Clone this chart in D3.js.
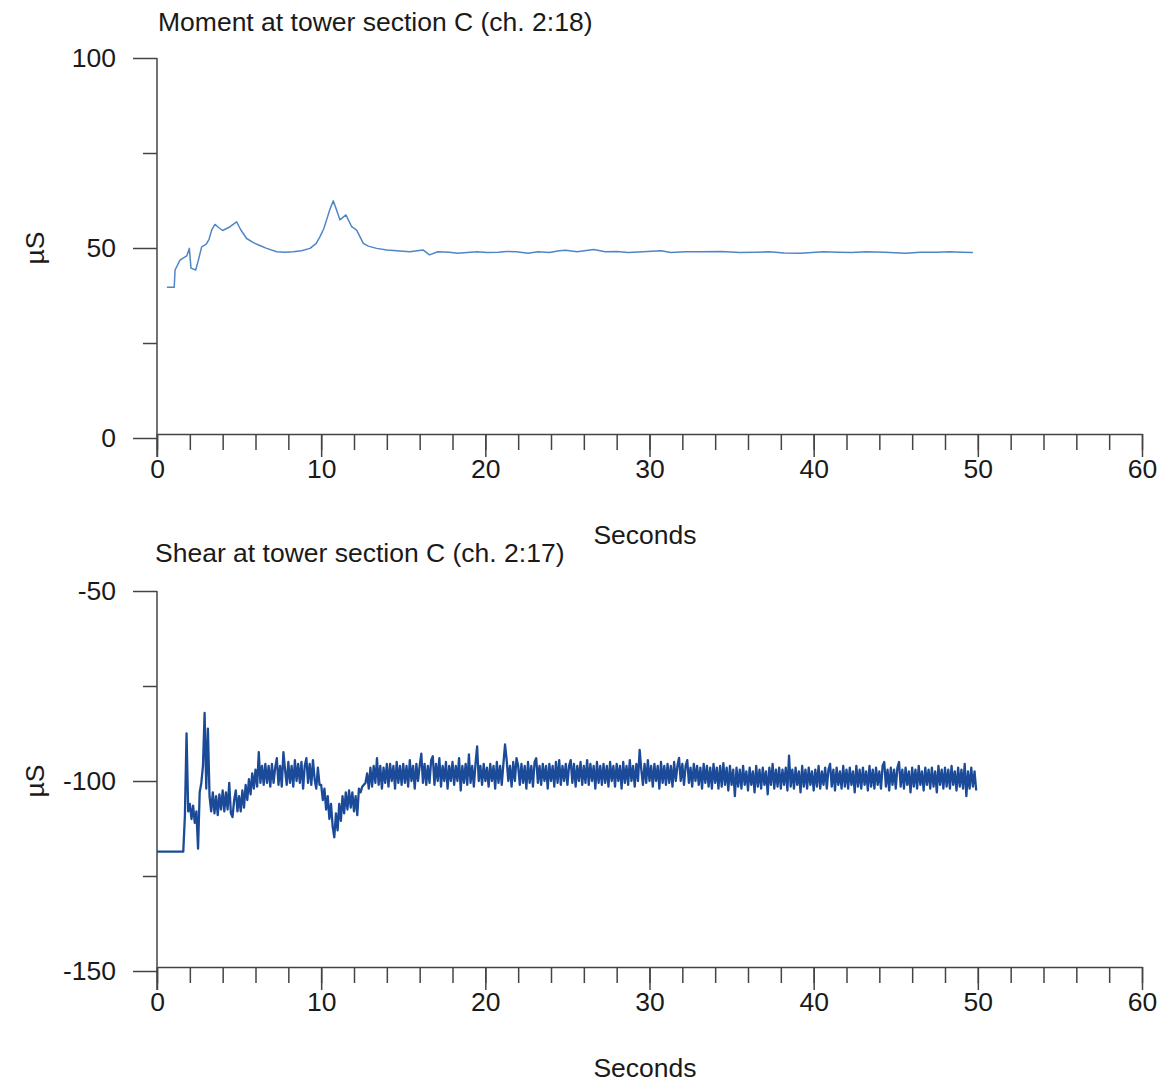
<!DOCTYPE html>
<html>
<head>
<meta charset="utf-8">
<script src="https://cdn.jsdelivr.net/npm/d3@7"></script>
<style>
  html, body { margin: 0; padding: 0; background: #fff; }
  svg { display: block; }
  text { font-family: Arial, "Liberation Sans", sans-serif; fill: #1a1a1a; }
</style>
</head>
<body>
<script>
// ---------- DATA ----------
const xTickLabels = [0, 10, 20, 30, 40, 50, 60];

const momentTitle = "Moment at tower section C (ch. 2:18)";
const momentYTicks = [0, 50, 100];
const momentT = [0.6, 1.05, 1.1, 1.4, 1.81, 1.97, 2.07, 2.36, 2.52, 2.72, 3.0, 3.17, 3.33, 3.53, 3.75, 4.0, 4.45, 4.85, 5.1, 5.46, 5.87, 6.3, 6.68, 7.29, 7.8, 8.3, 8.8, 9.32, 9.7, 9.93, 10.15, 10.33, 10.55, 10.74, 10.94, 11.14, 11.51, 11.86, 12.16, 12.57, 12.87, 13.38, 14.0, 14.6, 15.4, 16.2, 16.6, 17.1, 17.8, 18.3, 18.9, 19.5, 20.1, 20.8, 21.3, 21.9, 22.6, 23.2, 23.9, 24.5, 24.9, 25.6, 26.6, 27.3, 28.0, 28.7, 29.6, 30.7, 31.3, 32.2, 33.1, 34.4, 35.5, 36.5, 37.3, 38.2, 39.2, 40.6, 41.5, 42.3, 43.2, 44.3, 45.6, 46.5, 47.5, 48.3, 49.0, 49.7];
const momentV = [39.7, 39.7, 44.2, 46.8, 47.9, 49.9, 44.7, 44.2, 46.8, 50.3, 51.0, 52.3, 54.7, 56.2, 55.4, 54.6, 55.6, 56.9, 54.8, 52.5, 51.4, 50.6, 49.9, 49.0, 48.9, 49.0, 49.3, 49.9, 51.2, 53.0, 55.0, 57.4, 60.4, 62.4, 60.0, 57.4, 58.7, 55.6, 54.7, 51.2, 50.5, 49.9, 49.5, 49.3, 49.0, 49.5, 48.2, 49.0, 48.9, 48.6, 48.8, 49.0, 48.8, 48.9, 49.1, 49.0, 48.6, 49.0, 48.8, 49.3, 49.4, 49.0, 49.6, 49.0, 49.1, 48.8, 49.0, 49.3, 48.8, 49.0, 49.0, 49.1, 48.8, 48.9, 49.0, 48.7, 48.6, 49.0, 48.9, 48.8, 49.0, 48.9, 48.6, 48.9, 48.9, 49.0, 48.9, 48.8];

const shearTitle = "Shear at tower section C (ch. 2:17)";
const shearYTicks = [-150, -100, -50];
const shearStart = 0;      // seconds of first sample
const shearStep = 0.1;     // seconds between samples
const shearV = [
  -118.6,-118.6,-118.6,-118.6,-118.6,-118.6,-118.6,-118.6,-118.6,-118.6,
  -118.6,-118.6,-118.6,-118.6,-118.6,-118.6,-118.6,-109,-87.5,-108,
  -106,-110,-106.5,-111,-108,-117.8,-103,-100.5,-96,-82.1,
  -102,-86.2,-104,-108,-103,-108.5,-104,-109,-103.5,-107.5,
  -102.5,-108,-103,-107.5,-100.5,-108.5,-109.5,-105,-102.5,-108,
  -104,-108,-102.5,-107,-101,-105,-99.5,-103.5,-98,-102,
  -97,-101.5,-92.4,-100.5,-96,-101,-95.5,-100.5,-96,-101.5,
  -95.5,-100.5,-96.5,-94,-101,-96,-101.5,-92.4,-97,-101,
  -95,-100.5,-96,-101.5,-94.5,-100,-95.5,-100.5,-95,-102,
  -96,-94,-100.5,-95.5,-101,-94.5,-99.5,-102,-96.5,-101,
  -101,-105,-102,-107.5,-104,-110,-106,-112,-114.8,-108.5,
  -113,-106,-110.5,-104,-108.5,-103,-107.5,-102.5,-107,-103,
  -108,-104,-109,-102,-103,-101.5,-101,-100.5,-98,-102,
  -96.5,-101.5,-96,-100.5,-94,-101,-96,-102,-96.5,-100.5,
  -95.5,-101.5,-95.5,-100,-96,-102,-95,-100.5,-96,-101,
  -95.5,-100.5,-96,-101.5,-94.5,-100,-96,-102,-95.5,-100,
  -96,-92.8,-100.5,-95.5,-101,-96,-100.5,-94.5,-93.5,-101,
  -95.5,-100,-94,-101.5,-96,-100,-95,-102,-96,-100,
  -95,-101,-96,-100,-94,-102.5,-96,-100.5,-95.5,-101,
  -93,-100.5,-96,-101.5,-95.5,-90.9,-100,-96,-101,-95.5,
  -100,-96.5,-101.5,-95.5,-100,-96,-102,-95,-100.5,-96,
  -101,-95.5,-90.4,-94.5,-100,-96,-101.5,-95,-100,-94,
  -96,-101,-95.5,-100.5,-96,-102,-95,-100.5,-96,-101.5,
  -95,-94,-100.5,-96,-101,-95.5,-100,-96,-102,-95.5,
  -100,-96,-101.5,-95,-100.5,-94.5,-101,-96,-100,-95.5,
  -101,-96,-94.5,-100.5,-95.5,-101.5,-96,-100,-95,-101,
  -96,-100.5,-94.5,-101,-95.5,-100,-96,-102,-95,-100.5,
  -96,-101,-95.5,-100.5,-96,-101.5,-95,-100,-96,-101.5,
  -95.5,-100,-96,-102,-95,-100.5,-96,-101,-94.5,-100,
  -96,-101.5,-95.5,-100,-91.8,-97,-101,-95.5,-100.5,-94.5,
  -100,-96,-101.5,-95.5,-100,-96,-102,-95,-100.5,-96,
  -101,-95.5,-100.5,-96,-101.5,-95,-100,-96,-93.9,-100,
  -95.5,-101,-96,-94.5,-100.5,-96.5,-101.5,-95.5,-100,-96,
  -101,-96.5,-102,-95.5,-100.5,-96,-101.5,-96.5,-102,-95.5,
  -100.5,-96.5,-102,-96,-101.5,-95.3,-101,-96.5,-102.5,-96,
  -101,-97,-104,-96.5,-101.5,-97,-102,-96,-101,-97.5,
  -102.5,-96.5,-101,-97.5,-103,-96,-101.5,-97,-102,-96.5,
  -101,-97.5,-103.5,-96.5,-101,-95.5,-102,-97,-101.5,-96.5,
  -102,-97,-101,-96.5,-102.5,-93.3,-101.5,-97,-102,-96.5,
  -101,-97.5,-103,-96,-101.5,-97,-102,-96.5,-101,-97.5,
  -102.5,-97,-101.5,-96,-102,-97.5,-101,-96.5,-102,-97,
  -95.5,-101.5,-97,-102.5,-96.5,-101,-97.5,-102,-96,-101.5,
  -97,-102,-96.5,-101,-97.5,-103,-96,-101.5,-97,-102,
  -96.5,-101,-97.5,-102.5,-96,-101.5,-97,-102,-96.5,-101,
  -97.5,-102,-96,-95,-101.5,-97,-102.5,-96.5,-101,-97,
  -102,-96.5,-95,-101.5,-97,-102,-96.5,-101,-97.5,-103,
  -96.5,-101.5,-97,-102,-96,-101,-97.5,-102.5,-96.5,-101,
  -97,-102,-96.5,-101.5,-97.5,-103,-96,-101,-97,-102,
  -96.5,-101.5,-97,-102,-96,-101,-97.5,-102.5,-96.5,-101.5,
  -97,-102,-95.5,-104,-97.5,-102,-96.5,-101.5,-97.5,-102.5
];

// ---------- LAYOUT ----------
const W = 1165, H = 1084;
const FONT = 26.5;
const FAM = "Arial, 'Liberation Sans', sans-serif";
const svg = d3.select("body").append("svg").attr("width", W).attr("height", H);

function panel(cfg) {
  const x = d3.scaleLinear().domain([0, 60]).range([157, 1142]);
  const y = d3.scaleLinear().domain(cfg.yDomain).range(cfg.yRange);
  const g = svg.append("g");
  const axisY = cfg.yRange[0] - 4;
  const axisColor = "#444";
  const fmt = d => String(d);

  g.append("line").attr("x1", x(0)).attr("x2", x(0))
    .attr("y1", cfg.yRange[1]).attr("y2", axisY + 23)
    .attr("stroke", axisColor).attr("stroke-width", 1.5);

  const yMinor = d3.axisLeft(y).tickValues(cfg.yMinor).tickSize(14).tickFormat("").tickSizeOuter(0);
  const gym = g.append("g").attr("transform", `translate(${x(0)},0)`).call(yMinor);
  const yMajor = d3.axisLeft(y).tickValues(cfg.yTicks).tickSize(24).tickPadding(17).tickFormat(fmt).tickSizeOuter(0);
  const gyM = g.append("g").attr("transform", `translate(${x(0)},0)`).call(yMajor);
  [gym, gyM].forEach(a => {
    a.select(".domain").remove();
    a.selectAll("line").attr("stroke", axisColor).attr("stroke-width", 1.5);
    a.selectAll("text").style("font-size", FONT + "px").style("font-family", FAM).attr("fill", "#1a1a1a");
  });

  const xMinor = d3.axisBottom(x).tickValues(d3.range(0, 61, 2)).tickSize(16).tickFormat("").tickSizeOuter(0);
  const gxm = g.append("g").attr("transform", `translate(0,${axisY})`).call(xMinor);
  const xMajor = d3.axisBottom(x).tickValues(xTickLabels).tickSize(23).tickPadding(2).tickFormat(fmt).tickSizeOuter(0);
  const gxM = g.append("g").attr("transform", `translate(0,${axisY})`).call(xMajor);
  gxM.select(".domain").remove();
  gxm.select(".domain").attr("stroke", axisColor).attr("stroke-width", 1.5);
  [gxm, gxM].forEach(a => {
    a.selectAll("line").attr("stroke", axisColor).attr("stroke-width", 1.5);
    a.selectAll("text").style("font-size", FONT + "px").style("font-family", FAM).attr("fill", "#1a1a1a");
  });

  g.append("text").attr("x", cfg.titleX).attr("y", cfg.titleY)
    .style("font-size", FONT + "px").text(cfg.title);
  g.append("text").attr("x", 645).attr("y", cfg.xLabelY).attr("text-anchor", "middle")
    .style("font-size", FONT + "px").text("Seconds");
  const yc = (cfg.yRange[0] + cfg.yRange[1]) / 2;
  g.append("text").attr("transform", `translate(44,${yc}) rotate(-90)`).attr("text-anchor", "middle")
    .style("font-size", FONT + "px").text("µS");

  const line = d3.line().x(d => x(d[0])).y(d => y(d[1]));
  g.append("path").datum(cfg.data).attr("d", line)
    .attr("fill", "none").attr("stroke", cfg.color).attr("stroke-width", cfg.width)
    .attr("stroke-linejoin", "round");
}

panel({
  yDomain: [0, 100], yRange: [438, 58], yTicks: momentYTicks, yMinor: [25, 75],
  title: momentTitle, titleX: 158, titleY: 31, xLabelY: 544,
  data: momentT.map((t, i) => [t, momentV[i]]),
  color: "#4f86c6", width: 1.5
});

panel({
  yDomain: [-150, -50], yRange: [971, 591], yTicks: shearYTicks, yMinor: [-125, -75],
  title: shearTitle, titleX: 155, titleY: 562, xLabelY: 1077,
  data: shearV.map((v, i) => [shearStart + i * shearStep, v]),
  color: "#1b4b98", width: 2.3
});
</script>
</body>
</html>
